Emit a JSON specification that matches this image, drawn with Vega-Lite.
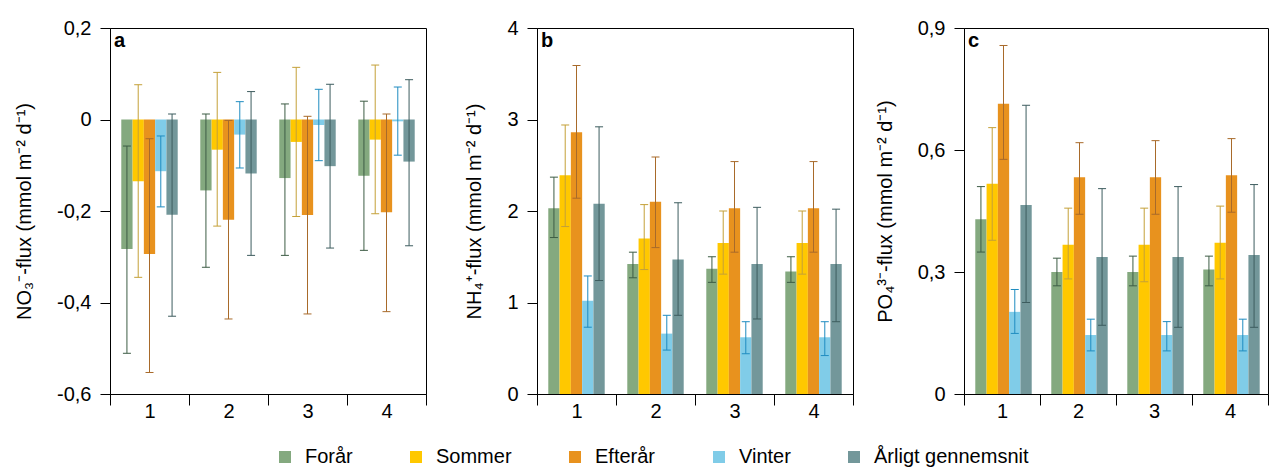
{
  "$schema": "https://vega.github.io/schema/vega-lite/v6.json",
  "background": "white",
  "padding": {"left": 14, "top": 17, "right": 0, "bottom": 0},
  "config": {
    "font": "Liberation Sans",
    "view": {"stroke": "#000", "strokeWidth": 1},
    "axis": {"labelFontSize": 20, "labelColor": "#000", "titleFontSize": 20, "titleFontWeight": "normal", "titleColor": "#000", "domainColor": "#000", "tickColor": "#000", "grid": false, "labelFont": "Liberation Sans", "titleFont": "Liberation Sans"},
    "axisY": {"tickSize": 10, "labelPadding": 9, "titlePadding": 22},
    "axisX": {"tickSize": 11, "labelPadding": -4, "tickBand": "extent", "labelAngle": 0},
    "title": {"fontSize": 20, "fontWeight": "bold", "anchor": "start", "frame": "group", "color": "#000", "baseline": "alphabetic", "offset": -33, "dx": 4},
    "legend": {"symbolType": "square", "symbolSize": 144, "symbolStrokeWidth": 0, "labelFontSize": 20, "labelOffset": 10, "labelColor": "#000", "padding": 0, "columnPadding": 53}
  },
  "datasets": {
    "no3": [
      {"station": "1", "season": "Forår", "value": -0.283, "lo": -0.511, "hi": -0.058},
      {"station": "1", "season": "Sommer", "value": -0.135, "lo": -0.345, "hi": 0.076},
      {"station": "1", "season": "Efterår", "value": -0.294, "lo": -0.553, "hi": -0.042},
      {"station": "1", "season": "Vinter", "value": -0.113, "lo": -0.191, "hi": -0.036},
      {"station": "1", "season": "Årligt gennemsnit", "value": -0.208, "lo": -0.430, "hi": 0.012},
      {"station": "2", "season": "Forår", "value": -0.155, "lo": -0.323, "hi": 0.012},
      {"station": "2", "season": "Sommer", "value": -0.066, "lo": -0.233, "hi": 0.103},
      {"station": "2", "season": "Efterår", "value": -0.219, "lo": -0.436, "hi": -0.002},
      {"station": "2", "season": "Vinter", "value": -0.033, "lo": -0.106, "hi": 0.039},
      {"station": "2", "season": "Årligt gennemsnit", "value": -0.118, "lo": -0.297, "hi": 0.061},
      {"station": "3", "season": "Forår", "value": -0.128, "lo": -0.297, "hi": 0.034},
      {"station": "3", "season": "Sommer", "value": -0.049, "lo": -0.212, "hi": 0.114},
      {"station": "3", "season": "Efterår", "value": -0.209, "lo": -0.425, "hi": 0.007},
      {"station": "3", "season": "Vinter", "value": -0.012, "lo": -0.090, "hi": 0.066},
      {"station": "3", "season": "Årligt gennemsnit", "value": -0.102, "lo": -0.281, "hi": 0.077},
      {"station": "4", "season": "Forår", "value": -0.123, "lo": -0.286, "hi": 0.040},
      {"station": "4", "season": "Sommer", "value": -0.044, "lo": -0.206, "hi": 0.119},
      {"station": "4", "season": "Efterår", "value": -0.203, "lo": -0.420, "hi": 0.012},
      {"station": "4", "season": "Vinter", "value": -0.004, "lo": -0.078, "hi": 0.071},
      {"station": "4", "season": "Årligt gennemsnit", "value": -0.092, "lo": -0.276, "hi": 0.087}
    ],
    "nh4": [
      {"station": "1", "season": "Forår", "value": 2.03, "lo": 1.71, "hi": 2.37},
      {"station": "1", "season": "Sommer", "value": 2.39, "lo": 1.83, "hi": 2.94},
      {"station": "1", "season": "Efterår", "value": 2.86, "lo": 2.14, "hi": 3.59},
      {"station": "1", "season": "Vinter", "value": 1.02, "lo": 0.73, "hi": 1.29},
      {"station": "1", "season": "Årligt gennemsnit", "value": 2.08, "lo": 1.24, "hi": 2.92},
      {"station": "2", "season": "Forår", "value": 1.42, "lo": 1.27, "hi": 1.55},
      {"station": "2", "season": "Sommer", "value": 1.70, "lo": 1.36, "hi": 2.07},
      {"station": "2", "season": "Efterår", "value": 2.10, "lo": 1.60, "hi": 2.59},
      {"station": "2", "season": "Vinter", "value": 0.66, "lo": 0.48, "hi": 0.86},
      {"station": "2", "season": "Årligt gennemsnit", "value": 1.47, "lo": 0.86, "hi": 2.09},
      {"station": "3", "season": "Forår", "value": 1.37, "lo": 1.22, "hi": 1.50},
      {"station": "3", "season": "Sommer", "value": 1.65, "lo": 1.31, "hi": 2.00},
      {"station": "3", "season": "Efterår", "value": 2.03, "lo": 1.55, "hi": 2.54},
      {"station": "3", "season": "Vinter", "value": 0.62, "lo": 0.44, "hi": 0.79},
      {"station": "3", "season": "Årligt gennemsnit", "value": 1.42, "lo": 0.82, "hi": 2.04},
      {"station": "4", "season": "Forår", "value": 1.34, "lo": 1.22, "hi": 1.50},
      {"station": "4", "season": "Sommer", "value": 1.65, "lo": 1.31, "hi": 2.00},
      {"station": "4", "season": "Efterår", "value": 2.03, "lo": 1.55, "hi": 2.54},
      {"station": "4", "season": "Vinter", "value": 0.62, "lo": 0.42, "hi": 0.79},
      {"station": "4", "season": "Årligt gennemsnit", "value": 1.42, "lo": 0.79, "hi": 2.02}
    ],
    "po4": [
      {"station": "1", "season": "Forår", "value": 0.430, "lo": 0.349, "hi": 0.510},
      {"station": "1", "season": "Sommer", "value": 0.517, "lo": 0.378, "hi": 0.655},
      {"station": "1", "season": "Efterår", "value": 0.714, "lo": 0.577, "hi": 0.857},
      {"station": "1", "season": "Vinter", "value": 0.202, "lo": 0.149, "hi": 0.257},
      {"station": "1", "season": "Årligt gennemsnit", "value": 0.465, "lo": 0.225, "hi": 0.710},
      {"station": "2", "season": "Forår", "value": 0.300, "lo": 0.266, "hi": 0.334},
      {"station": "2", "season": "Sommer", "value": 0.367, "lo": 0.283, "hi": 0.457},
      {"station": "2", "season": "Efterår", "value": 0.533, "lo": 0.442, "hi": 0.618},
      {"station": "2", "season": "Vinter", "value": 0.145, "lo": 0.106, "hi": 0.184},
      {"station": "2", "season": "Årligt gennemsnit", "value": 0.337, "lo": 0.169, "hi": 0.505},
      {"station": "3", "season": "Forår", "value": 0.300, "lo": 0.266, "hi": 0.339},
      {"station": "3", "season": "Sommer", "value": 0.367, "lo": 0.276, "hi": 0.457},
      {"station": "3", "season": "Efterår", "value": 0.533, "lo": 0.442, "hi": 0.623},
      {"station": "3", "season": "Vinter", "value": 0.145, "lo": 0.106, "hi": 0.178},
      {"station": "3", "season": "Årligt gennemsnit", "value": 0.337, "lo": 0.164, "hi": 0.510},
      {"station": "4", "season": "Forår", "value": 0.306, "lo": 0.266, "hi": 0.339},
      {"station": "4", "season": "Sommer", "value": 0.372, "lo": 0.283, "hi": 0.462},
      {"station": "4", "season": "Efterår", "value": 0.538, "lo": 0.447, "hi": 0.628},
      {"station": "4", "season": "Vinter", "value": 0.145, "lo": 0.106, "hi": 0.184},
      {"station": "4", "season": "Årligt gennemsnit", "value": 0.342, "lo": 0.164, "hi": 0.515}
    ]
  },
  "bounds": "flush",
  "spacing": 111,
  "hconcat": [
    {
      "width": 316, "height": 366,
      "data": {"name": "no3"},
      "title": {"text": "a"},
      "encoding": {
        "x": {"field": "station", "type": "nominal", "scale": {"paddingInner": 0, "paddingOuter": 0}, "axis": {"title": null}},
        "xOffset": {"field": "season", "type": "nominal", "sort": ["Forår", "Sommer", "Efterår", "Vinter", "Årligt gennemsnit"], "scale": {"paddingInner": 0, "paddingOuter": 1}}
      },
      "layer": [
        {"mark": "bar", "encoding": {
          "y": {"field": "value", "type": "quantitative", "scale": {"domain": [-0.6, 0.2], "nice": false, "zero": false}, "axis": {"title": "NO₃⁻-flux (mmol m⁻² d⁻¹)", "values": [-0.6, -0.4, -0.2, 0, 0.2], "labelExpr": "replace(replace(format(datum.value, '.1~f'), '.', ','), '−', '-')"}},
          "fill": {"field": "season", "type": "nominal", "sort": ["Forår", "Sommer", "Efterår", "Vinter", "Årligt gennemsnit"], "scale": {"domain": ["Forår", "Sommer", "Efterår", "Vinter", "Årligt gennemsnit"], "range": ["#84a97f", "#ffc800", "#e8921e", "#80cce8", "#73979a"]}, "legend": {"title": null, "orient": "none", "legendX": 165, "legendY": 419, "direction": "horizontal", "columns": 5}}
        }},
        {"mark": {"type": "rule", "color": "#000", "strokeWidth": 1}, "encoding": {"y": {"datum": 0}}},
        {"mark": {"type": "rule", "strokeWidth": 1}, "encoding": {
          "y": {"field": "lo", "type": "quantitative"}, "y2": {"field": "hi"},
          "stroke": {"field": "season", "type": "nominal", "scale": {"domain": ["Forår", "Sommer", "Efterår", "Vinter", "Årligt gennemsnit"], "range": ["#3d5c45", "#c4a038", "#a86a2a", "#1f8cc0", "#3d5c5e"]}, "legend": null}
        }},
        {"mark": {"type": "point", "shape": "M-1,0L1,0", "size": 64, "strokeWidth": 1, "opacity": 1, "filled": false}, "encoding": {
          "y": {"field": "lo", "type": "quantitative"},
          "stroke": {"field": "season", "type": "nominal", "legend": null}
        }},
        {"mark": {"type": "point", "shape": "M-1,0L1,0", "size": 64, "strokeWidth": 1, "opacity": 1, "filled": false}, "encoding": {
          "y": {"field": "hi", "type": "quantitative"},
          "stroke": {"field": "season", "type": "nominal", "legend": null}
        }}
      ]
    },
    {
      "width": 316, "height": 366,
      "data": {"name": "nh4"},
      "title": {"text": "b"},
      "encoding": {
        "x": {"field": "station", "type": "nominal", "scale": {"paddingInner": 0, "paddingOuter": 0}, "axis": {"title": null}},
        "xOffset": {"field": "season", "type": "nominal", "sort": ["Forår", "Sommer", "Efterår", "Vinter", "Årligt gennemsnit"], "scale": {"paddingInner": 0, "paddingOuter": 1}}
      },
      "layer": [
        {"mark": "bar", "encoding": {
          "y": {"field": "value", "type": "quantitative", "scale": {"domain": [0, 4], "nice": false}, "axis": {"title": "NH₄⁺-flux (mmol m⁻² d⁻¹)", "values": [0, 1, 2, 3, 4], "labelExpr": "replace(format(datum.value, '.1~f'), '.', ',')"}},
          "fill": {"field": "season", "type": "nominal", "sort": ["Forår", "Sommer", "Efterår", "Vinter", "Årligt gennemsnit"], "scale": {"domain": ["Forår", "Sommer", "Efterår", "Vinter", "Årligt gennemsnit"], "range": ["#84a97f", "#ffc800", "#e8921e", "#80cce8", "#73979a"]}, "legend": {"title": null, "orient": "none", "legendX": 165, "legendY": 419, "direction": "horizontal", "columns": 5}}
        }},
        {"mark": {"type": "rule", "strokeWidth": 1}, "encoding": {
          "y": {"field": "lo", "type": "quantitative"}, "y2": {"field": "hi"},
          "stroke": {"field": "season", "type": "nominal", "scale": {"domain": ["Forår", "Sommer", "Efterår", "Vinter", "Årligt gennemsnit"], "range": ["#3d5c45", "#c4a038", "#a86a2a", "#1f8cc0", "#3d5c5e"]}, "legend": null}
        }},
        {"mark": {"type": "point", "shape": "M-1,0L1,0", "size": 64, "strokeWidth": 1, "opacity": 1, "filled": false}, "encoding": {
          "y": {"field": "lo", "type": "quantitative"},
          "stroke": {"field": "season", "type": "nominal", "legend": null}
        }},
        {"mark": {"type": "point", "shape": "M-1,0L1,0", "size": 64, "strokeWidth": 1, "opacity": 1, "filled": false}, "encoding": {
          "y": {"field": "hi", "type": "quantitative"},
          "stroke": {"field": "season", "type": "nominal", "legend": null}
        }}
      ]
    },
    {
      "width": 304, "height": 366,
      "data": {"name": "po4"},
      "title": {"text": "c"},
      "encoding": {
        "x": {"field": "station", "type": "nominal", "scale": {"paddingInner": 0, "paddingOuter": 0}, "axis": {"title": null}},
        "xOffset": {"field": "season", "type": "nominal", "sort": ["Forår", "Sommer", "Efterår", "Vinter", "Årligt gennemsnit"], "scale": {"paddingInner": 0, "paddingOuter": 1}}
      },
      "layer": [
        {"mark": "bar", "encoding": {
          "y": {"field": "value", "type": "quantitative", "scale": {"domain": [0, 0.9], "nice": false}, "axis": {"title": "PO₄³⁻-flux (mmol m⁻² d⁻¹)", "values": [0, 0.3, 0.6, 0.9], "labelExpr": "replace(format(datum.value, '.1~f'), '.', ',')"}},
          "fill": {"field": "season", "type": "nominal", "sort": ["Forår", "Sommer", "Efterår", "Vinter", "Årligt gennemsnit"], "scale": {"domain": ["Forår", "Sommer", "Efterår", "Vinter", "Årligt gennemsnit"], "range": ["#84a97f", "#ffc800", "#e8921e", "#80cce8", "#73979a"]}, "legend": {"title": null, "orient": "none", "legendX": 165, "legendY": 419, "direction": "horizontal", "columns": 5}}
        }},
        {"mark": {"type": "rule", "strokeWidth": 1}, "encoding": {
          "y": {"field": "lo", "type": "quantitative"}, "y2": {"field": "hi"},
          "stroke": {"field": "season", "type": "nominal", "scale": {"domain": ["Forår", "Sommer", "Efterår", "Vinter", "Årligt gennemsnit"], "range": ["#3d5c45", "#c4a038", "#a86a2a", "#1f8cc0", "#3d5c5e"]}, "legend": null}
        }},
        {"mark": {"type": "point", "shape": "M-1,0L1,0", "size": 64, "strokeWidth": 1, "opacity": 1, "filled": false}, "encoding": {
          "y": {"field": "lo", "type": "quantitative"},
          "stroke": {"field": "season", "type": "nominal", "legend": null}
        }},
        {"mark": {"type": "point", "shape": "M-1,0L1,0", "size": 64, "strokeWidth": 1, "opacity": 1, "filled": false}, "encoding": {
          "y": {"field": "hi", "type": "quantitative"},
          "stroke": {"field": "season", "type": "nominal", "legend": null}
        }}
      ]
    }
  ]
}
